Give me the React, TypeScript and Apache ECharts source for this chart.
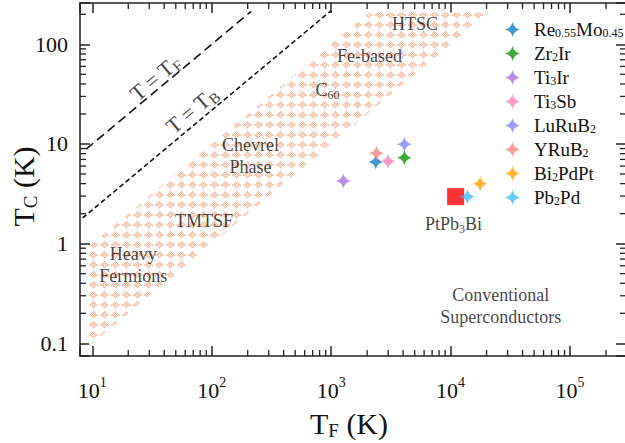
import React, { useEffect, useRef } from 'react';
import * as echarts from 'echarts';

// ---- data ----
const materials = ['Re0.55Mo0.45', 'Zr2Ir', 'Ti3Ir', 'Ti3Sb', 'LuRuB2', 'YRuB2', 'Bi2PdPt', 'Pb2Pd'];
const materialTF = [2363, 4103, 1265, 2996, 4103, 2391, 17660, 13830];
const materialTC = [6.59, 7.28, 4.25, 6.7, 9.92, 8.05, 3.99, 2.96];
const materialColors = ['#0d80c8', '#0b960b', '#a66ee0', '#f77fb5', '#8282ff', '#f78282', '#ffa500', '#3fbaff'];

const targetName = 'PtPb3Bi';
const targetTF = [11020];
const targetTC = [2.96];

const bandTF = [9.4, 9.4, 2090, 20900];
const bandTC = [0.094, 0.94, 209, 209];

const fermiLineTF = [8.9, 214];
const fermiLineTC = [8.9, 214];
const boseLineTF = [8.3, 1000];
const boseLineTC = [1.81, 218];

const regionLabels = ['Heavy\nFermions', 'TMTSF', 'Chevrel\nPhase', 'C60', 'Fe-based', 'HTSC', 'PtPb3Bi', 'Conventional\nSuperconductors'];
const regionTF = [22.05, 86.2, 211.4, 933, 2089, 5043, 10560, 26240];
const regionTC = [0.6105, 1.687, 7.625, 34.8, 76.3, 159, 1.574, 0.2378];

const lineLabels = ['T = T_F', 'T = T_B'];
const lineLabelTF = [33.5, 68.0];
const lineLabelTC = [46.0, 21.9];

const xMin = 7.89;
const xMax = 294000;
const yMin = 0.0746;
const yMax = 259.7;

const xMinorTicks = [20, 30, 40, 50, 60, 70, 80, 90, 200, 300, 400, 500, 600, 700, 800, 900,
  2000, 3000, 4000, 5000, 6000, 7000, 8000, 9000, 20000, 30000, 40000, 50000, 60000, 70000, 80000, 90000, 200000];
const yMinorTicks = [0.2, 0.3, 0.4, 0.5, 0.6, 0.7, 0.8, 0.9, 2, 3, 4, 5, 6, 7, 8, 9,
  20, 30, 40, 50, 60, 70, 80, 90, 200];

// ---- helpers ----
const FONT = "'Liberation Serif', 'Times New Roman', 'DejaVu Serif', serif";
const INK = '#111';
const STAR = 'path://M50,0 Q59,41 100,50 Q59,59 50,100 Q41,59 0,50 Q41,41 50,0 Z';

function toRich(s: string): string {
  return s
    .replace(/_(\w)/g, '{s|$1}')
    .replace(/(\d+(?:\.\d+)?)/g, '{s|$1}');
}

function isPow10(v: number): boolean {
  const l = Math.log10(v);
  return Math.abs(l - Math.round(l)) < 1e-6;
}

function makePattern(): string {
  const w = 11, h = 10;
  const c = document.createElement('canvas');
  c.width = w; c.height = h;
  const ctx = c.getContext('2d')!;
  ctx.fillStyle = '#ffffff';
  ctx.fillRect(0, 0, w, h);
  for (let i = 0; i < w; i++) {
    for (let j = 0; j < h; j++) {
      const dx = Math.abs(i + 0.5 - 5.5) / 5;
      const dy = Math.abs(j + 0.5 - 5) / 4.5;
      const md = dx + dy;
      if (md <= 0.92) {
        let col: string;
        if (md < 0.2) col = '#fdeae1';
        else if ((i + j) % 2 === 0) col = '#f6b697';
        else col = '#fde2d5';
        ctx.fillStyle = col;
        ctx.fillRect(i, j, 1, 1);
      }
    }
  }
  return c.toDataURL();
}

export default function App() {
  const ref = useRef<HTMLDivElement>(null);

  useEffect(() => {
    if (!ref.current) return;
    const chart = echarts.init(ref.current, undefined, { renderer: 'svg' });
    const patternUrl = makePattern();
    const subStyle = (size: number, lh: number) => ({ fontSize: size, fontFamily: FONT, color: INK, verticalAlign: 'bottom', lineHeight: lh });

    const tickStyle = { color: '#222', width: 1.5 };

    const minorX = {
      type: 'custom', coordinateSystem: 'cartesian2d', silent: true, clip: false, z: 5,
      data: xMinorTicks.map((v) => [v, 1]),
      renderItem: (params: any, api: any) => {
        const cs = params.coordSys;
        const x = api.coord([api.value(0), 1])[0];
        const b = cs.y + cs.height;
        const t = cs.y;
        return {
          type: 'group', children: [
            { type: 'line', shape: { x1: x, y1: b, x2: x, y2: b - 6 }, style: { stroke: '#222', lineWidth: 1.3 } },
            { type: 'line', shape: { x1: x, y1: t, x2: x, y2: t + 6 }, style: { stroke: '#222', lineWidth: 1.3 } },
          ],
        };
      },
    };
    const minorY = {
      type: 'custom', coordinateSystem: 'cartesian2d', silent: true, clip: false, z: 5,
      data: yMinorTicks.map((v) => [100, v]),
      renderItem: (params: any, api: any) => {
        const cs = params.coordSys;
        const y = api.coord([100, api.value(1)])[1];
        const l = cs.x;
        const r = cs.x + cs.width;
        return {
          type: 'group', children: [
            { type: 'line', shape: { x1: l, y1: y, x2: l + 6, y2: y }, style: { stroke: '#222', lineWidth: 1.3 } },
            { type: 'line', shape: { x1: r, y1: y, x2: r - 6, y2: y }, style: { stroke: '#222', lineWidth: 1.3 } },
          ],
        };
      },
    };

    const band = {
      type: 'custom', coordinateSystem: 'cartesian2d', silent: true, z: 1,
      data: bandTF.map((x, i) => [x, bandTC[i]]),
      renderItem: (params: any, api: any) => {
        if (params.dataIndex !== 0) return null;
        const pts = bandTF.map((x, i) => api.coord([x, bandTC[i]]));
        return {
          type: 'polygon',
          shape: { points: pts },
          style: { fill: { image: patternUrl, repeat: 'repeat', imageWidth: 11, imageHeight: 10 } as any, stroke: 'none' },
        };
      },
    };

    const xAxisBase = {
      type: 'log', logBase: 10, min: xMin, max: xMax,
      axisLine: { show: true, lineStyle: tickStyle },
      axisTick: { show: true, inside: true, length: 10, lineStyle: tickStyle },
      splitLine: { show: false },
      minorTick: { show: false },
    };
    const yAxisBase = {
      type: 'log', logBase: 10, min: yMin, max: yMax,
      axisLine: { show: true, lineStyle: tickStyle },
      axisTick: { show: true, inside: true, length: 10, lineStyle: tickStyle },
      splitLine: { show: false },
      minorTick: { show: false },
    };

    const option: any = {
      animation: false,
      backgroundColor: '#fff',
      textStyle: { fontFamily: FONT },
      grid: { left: 80, top: 3, right: -1, bottom: 87, containLabel: false, outerBoundsMode: 'none' },
      legend: {
        data: materials,
        orient: 'vertical',
        left: 500,
        top: 15,
        itemWidth: 15,
        itemHeight: 15,
        itemGap: 5,
        selectedMode: false,
        formatter: (n: string) => toRich(n),
        textStyle: {
          fontFamily: FONT, fontSize: 19, color: INK, lineHeight: 19, padding: [0, 0, 0, 9],
          rich: { s: subStyle(12, 10) },
        },
      },
      xAxis: [
        {
          ...xAxisBase,
          position: 'bottom',
          axisLabel: {
            show: true, margin: 19, fontFamily: FONT,
            formatter: (v: number) => (isPow10(v) ? '{b|10}{p|' + Math.round(Math.log10(v)) + '}' : ''),
            rich: {
              b: { fontSize: 22, fontFamily: FONT, color: INK, lineHeight: 30 },
              p: { fontSize: 14, fontFamily: FONT, color: INK, lineHeight: 14, verticalAlign: 'top' },
            },
          },
          name: 'T{s|F} (K)',
          nameLocation: 'middle',
          nameGap: 50,
          nameMoveOverlap: false,
          nameTextStyle: {
            fontFamily: FONT, fontSize: 30, color: INK, lineHeight: 34, padding: [0, 8, 0, 0],
            rich: { s: subStyle(19, 18) },
          },
        },
        { ...xAxisBase, position: 'top', axisLabel: { show: false } },
      ],
      yAxis: [
        {
          ...yAxisBase,
          position: 'left',
          axisLabel: {
            show: true, margin: 12, fontSize: 22, fontFamily: FONT, color: INK,
            formatter: (v: number) => (isPow10(v) ? (v < 1 ? v.toFixed(1) : String(Math.round(v))) : ''),
          },
          name: 'T{s|C} (K)',
          nameLocation: 'middle',
          nameGap: 40,
          nameMoveOverlap: false,
          nameTextStyle: {
            fontFamily: FONT, fontSize: 30, color: INK, lineHeight: 34, padding: [0, 14, 0, 0],
            rich: { s: subStyle(19, 18) },
          },
        },
        { ...yAxisBase, position: 'right', axisLabel: { show: false } },
      ],
      series: [
        band,
        minorX,
        minorY,
        {
          type: 'line', name: 'T=TF', silent: true, showSymbol: false, z: 3,
          data: fermiLineTF.map((x, i) => [x, fermiLineTC[i]]),
          lineStyle: { color: '#111', width: 1.6, type: [9, 5] },
        },
        {
          type: 'line', name: 'T=TB', silent: true, showSymbol: false, z: 3,
          data: boseLineTF.map((x, i) => [x, boseLineTC[i]]),
          lineStyle: { color: '#111', width: 1.6, type: [5, 3] },
        },
        {
          type: 'scatter', name: 'regionLabels', silent: true, symbolSize: 0, z: 4,
          data: regionTF.map((x, i) => ({ value: [x, regionTC[i]], name: regionLabels[i] })),
          label: {
            show: true, position: 'inside', formatter: (p: any) => toRich(p.name),
            fontFamily: FONT, fontSize: 18, color: INK, lineHeight: 22,
            rich: { s: subStyle(12, 12) },
          },
        },
        {
          type: 'scatter', name: 'lineLabels', silent: true, symbolSize: 0, z: 4,
          data: lineLabelTF.map((x, i) => ({ value: [x, lineLabelTC[i]], name: lineLabels[i] })),
          label: {
            show: true, position: 'inside', rotate: 40, formatter: (p: any) => toRich(p.name),
            fontFamily: FONT, fontSize: 22, color: INK, lineHeight: 26,
            rich: { s: subStyle(15, 14) },
          },
        },
        {
          type: 'scatter', name: targetName, symbol: 'rect', symbolSize: 17, z: 6,
          itemStyle: { color: '#ff0000' },
          data: targetTF.map((x, i) => [x, targetTC[i]]),
        },
        ...materials.map((m, i) => ({
          type: 'scatter', name: m, symbol: STAR, symbolSize: 15, z: 7,
          itemStyle: { color: materialColors[i] },
          data: [[materialTF[i], materialTC[i]]],
        })),
      ],
    };

    chart.setOption(option);
    return () => chart.dispose();
  }, []);

  return (
    <div
      ref={ref}
      style={{ position: 'fixed', left: 0, top: 0, width: 625, height: 443, background: '#fff' }}
    />
  );
}
